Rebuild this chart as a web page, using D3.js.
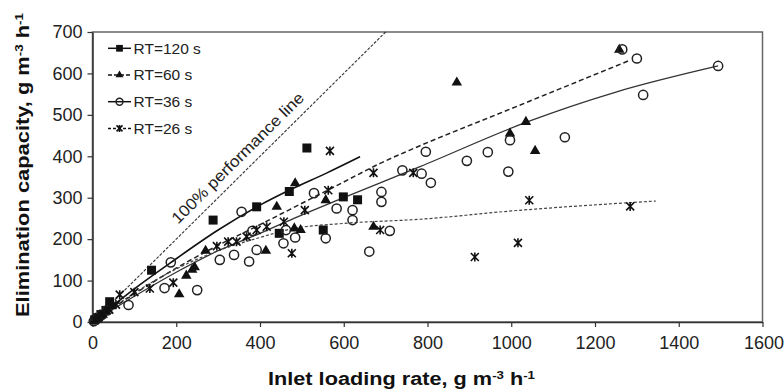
<!DOCTYPE html>
<html>
<head>
<meta charset="utf-8">
<script src="https://cdn.jsdelivr.net/npm/d3@7"></script>
<style>
  body { margin: 0; background: #fff; }
  svg { display: block; font-family: Arial, 'Liberation Sans', sans-serif; }
</style>
</head>
<body>
<div id="chart"></div>
<script>
// measured points, [inlet loading rate, elimination capacity]
const rt120 = [
  [5, 5], [12, 10], [20, 18], [32, 28], [41, 49], [141, 125], [288, 246], [392, 278],
  [446, 214], [470, 315], [512, 420], [551, 222], [599, 302], [633, 295]
];
const rt60 = [
  [8, 6], [18, 15], [30, 25], [45, 38], [207, 67], [224, 112], [238, 126], [244, 132],
  [270, 172], [414, 172], [440, 278], [482, 226], [484, 335], [497, 222], [557, 294],
  [671, 230], [870, 578], [997, 455], [1035, 483], [1057, 413], [1258, 657]
];
const rt36 = [
  [3, 2], [10, 8], [22, 17], [35, 28], [86, 41], [172, 82], [187, 144], [250, 77],
  [304, 150], [338, 162], [356, 266], [374, 146], [392, 174], [382, 220], [456, 190],
  [462, 222], [484, 204], [529, 311], [557, 202], [583, 274], [621, 270], [621, 246],
  [661, 170], [690, 314], [690, 290], [710, 220], [740, 366], [786, 358], [796, 411],
  [808, 336], [894, 389], [944, 410], [993, 363], [997, 439], [1128, 446], [1265, 658],
  [1300, 636], [1315, 548], [1494, 618]
];
const rt26 = [
  [6, 5], [15, 12], [26, 20], [40, 30], [56, 42], [65, 66], [100, 72], [137, 81],
  [193, 95], [297, 183], [324, 194], [344, 194], [368, 206], [392, 222], [416, 230],
  [457, 242], [476, 166], [507, 270], [563, 318], [567, 413], [671, 360], [687, 222],
  [766, 360], [913, 157], [1016, 191], [1043, 294], [1284, 279]
];

// fitted trend curves
const fit120 = [[0, 0], [100, 80], [185, 142], [300, 222], [400, 282], [472, 319], [560, 360], [639, 399]];
const fit60 = [[0, 0], [100, 68], [200, 130], [300, 185], [400, 235], [472, 272], [600, 338], [687, 383], [758, 415], [1000, 515], [1284, 632]];
const fit36 = [[0, 0], [100, 62], [200, 120], [300, 172], [400, 214], [472, 246], [600, 300], [782, 375], [1038, 483], [1250, 555], [1494, 618]];
const fit26 = [[0, 0], [100, 70], [200, 128], [300, 172], [400, 204], [472, 224], [600, 238], [782, 248], [1000, 268], [1345, 292]];
const perfLine = [[0, 0], [700, 700]];

const xTicks = [0, 200, 400, 600, 800, 1000, 1200, 1400, 1600];
const yTicks = [0, 100, 200, 300, 400, 500, 600, 700];
const seriesNames = ['RT=120 s', 'RT=60 s', 'RT=36 s', 'RT=26 s'];

const width = 784;
const height = 392;
const margin = { top: 32, right: 21.5, bottom: 70, left: 92.5 };

const svg = d3.select('#chart')
  .append('svg')
  .attr('width', width)
  .attr('height', height);

const x = d3.scaleLinear().domain([0, 1600]).range([margin.left, width - margin.right]);
const y = d3.scaleLinear().domain([0, 700]).range([height - margin.bottom, margin.top]);

// frame (top and right)
svg.append('rect')
  .attr('x', x(0))
  .attr('y', y(700))
  .attr('width', x(1600) - x(0))
  .attr('height', y(0) - y(700))
  .attr('fill', 'none')
  .attr('stroke', '#666')
  .attr('stroke-width', 1.5);

const xAxis = svg.append('g')
  .attr('transform', `translate(0,${y(0)})`)
  .call(d3.axisBottom(x).tickValues(xTicks).tickFormat(d3.format('d'))
    .tickSize(5).tickPadding(9).tickSizeOuter(0));

const yAxis = svg.append('g')
  .attr('transform', `translate(${x(0)},0)`)
  .call(d3.axisLeft(y).tickValues(yTicks).tickFormat(d3.format('d'))
    .tickSize(5).tickPadding(5).tickSizeOuter(0));

[xAxis, yAxis].forEach((g) => {
  g.select('.domain').attr('stroke', '#333').attr('stroke-width', 1.5);
  g.selectAll('.tick line').attr('stroke', '#333').attr('stroke-width', 1.2);
  g.selectAll('.tick text')
    .attr('fill', '#222')
    .style('font-size', '18px')
    .style('font-family', 'Arial, "Liberation Sans", sans-serif');
});
// last x label sits right at the page edge in the original
xAxis.selectAll('.tick text').filter((d) => d === 1600).attr('text-anchor', 'end').attr('dx', 21);

// axis titles
const xTitle = svg.append('text')
  .attr('x', 401.5)
  .attr('y', 385)
  .attr('text-anchor', 'middle')
  .attr('textLength', 267)
  .attr('lengthAdjust', 'spacingAndGlyphs')
  .style('font-size', '18px')
  .style('font-weight', 'bold')
  .attr('fill', '#111');
xTitle.append('tspan').text('Inlet loading rate, g m');
xTitle.append('tspan').attr('dy', -6).style('font-size', '11px').text('-3');
xTitle.append('tspan').attr('dy', 6).text(' h');
xTitle.append('tspan').attr('dy', -6).style('font-size', '11px').text('-1');

const yTitle = svg.append('text')
  .attr('transform', 'translate(29,165) rotate(-90)')
  .attr('text-anchor', 'middle')
  .attr('textLength', 304)
  .attr('lengthAdjust', 'spacingAndGlyphs')
  .style('font-size', '18px')
  .style('font-weight', 'bold')
  .attr('fill', '#111');
yTitle.append('tspan').text('Elimination capacity, g m');
yTitle.append('tspan').attr('dy', -6).style('font-size', '11px').text('-3');
yTitle.append('tspan').attr('dy', 6).text(' h');
yTitle.append('tspan').attr('dy', -6).style('font-size', '11px').text('-1');

const plot = svg.append('g');

const line = d3.line()
  .x((d) => x(d[0]))
  .y((d) => y(d[1]))
  .curve(d3.curveMonotoneX);

// 100% performance line
plot.append('path')
  .attr('d', d3.line().x((d) => x(d[0])).y((d) => y(d[1]))(perfLine))
  .attr('fill', 'none')
  .attr('stroke', '#333')
  .attr('stroke-width', 1.1)
  .attr('stroke-dasharray', '3,1.5');

const angle = Math.atan2(y(700) - y(0), x(700) - x(0)) * 180 / Math.PI;
plot.append('text')
  .attr('transform', `translate(${x(219)},${y(219)}) rotate(${angle})`)
  .attr('dy', -9)
  .attr('textLength', 179)
  .attr('lengthAdjust', 'spacingAndGlyphs')
  .style('font-size', '16px')
  .attr('fill', '#222')
  .text('100% performance line');

const fits = [
  { data: fit120, dash: null, w: 1.6, color: '#111' },
  { data: fit60, dash: '5,3', w: 1.5, color: '#222' },
  { data: fit36, dash: null, w: 1.3, color: '#333' },
  { data: fit26, dash: '3,2', w: 1.2, color: '#444' },
];

plot.selectAll('.fit')
  .data(fits)
  .enter()
  .append('path')
  .attr('class', 'fit')
  .attr('d', (d) => line(d.data))
  .attr('fill', 'none')
  .attr('stroke', (d) => d.color)
  .attr('stroke-width', (d) => d.w)
  .attr('stroke-dasharray', (d) => d.dash);

const starPath = (s) => `M${-s},${-s}L${s},${s}M${-s},${s}L${s},${-s}M0,${-s - 0.5}V${s + 0.5}`;

const markers = [
  (g, s) => g.append('path').attr('d', d3.symbol().type(d3.symbolSquare).size(81 * s * s)()).attr('fill', '#111'),
  (g, s) => g.append('path').attr('d', d3.symbol().type(d3.symbolTriangle).size(48 * s * s)()).attr('fill', '#111'),
  (g, s) => g.append('circle').attr('r', 4.6 * s).attr('fill', 'none').attr('stroke', '#222').attr('stroke-width', 1.5),
  (g, s) => g.append('path').attr('d', starPath(4 * s)).attr('fill', 'none').attr('stroke', '#111').attr('stroke-width', 1.6),
];

[rt120, rt60, rt36, rt26].forEach((pts, i) => {
  plot.selectAll(`.pt${i}`)
    .data(pts)
    .enter()
    .append('g')
    .attr('class', `pt${i}`)
    .attr('transform', (d) => `translate(${x(d[0])},${y(d[1])})`)
    .each(function () { markers[i](d3.select(this), 1); });
});

// legend
const legend = svg.append('g');
const legendDash = [null, '4,2', null, '3,2'];
seriesNames.forEach((name, i) => {
  const ly = 48.3 + i * 26.7;
  const row = legend.append('g').attr('transform', `translate(0,${ly})`);
  row.append('line')
    .attr('x1', 108).attr('x2', 131)
    .attr('stroke', '#111')
    .attr('stroke-width', 1.5)
    .attr('stroke-dasharray', legendDash[i]);
  markers[i](row.append('g').attr('transform', 'translate(119.5,0)'), 0.75);
  row.append('text')
    .attr('x', 133.5)
    .attr('y', 5.3)
    .style('font-size', '15.5px')
    .attr('fill', '#222')
    .text(name);
});
</script>
</body>
</html>
